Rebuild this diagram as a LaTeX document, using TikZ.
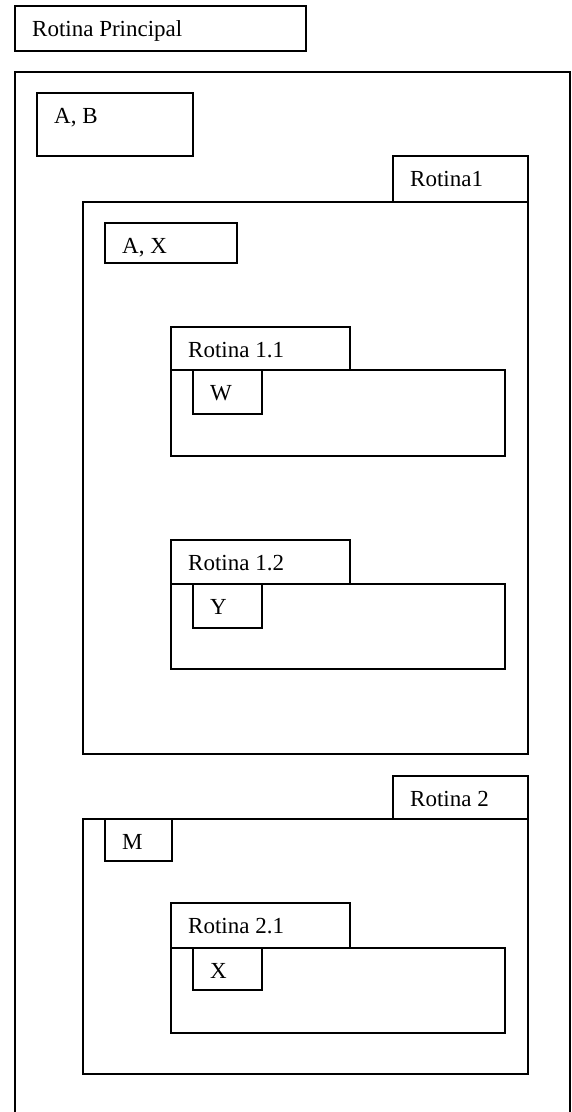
\documentclass[tikz,border=0pt]{standalone}
\usepackage{fontspec}
\setmainfont{Liberation Serif}
\begin{document}
\begin{tikzpicture}
[x=1pt,y=-1pt,
  boxdecorate/.style={shape=rectangle,draw,line width=1.5pt,inner sep=0pt,anchor=north west},%
  labeldecorate/.style={anchor=base west,inner sep=0pt,font=\fontsize{23}{28}\selectfont}]
\useasboundingbox[fill=white] (0,0) rectangle (571,1112);
%% boxes and their texts
\foreach \name/\x/\y/\w/\h/\text in {principal/14/71/555/1050/{},
  rp/14/5/291/45/{Rotina Principal}, ab/36/92/156/63/{A, B},
  tabum/392/155/135/46/{Rotina1}, rotum/82/201/445/552/{},
  ax/104/222/132/40/{A, X},
  tabumum/170/326/179/43/{Rotina 1.1}, rotumum/170/369/334/86/{},
  w/192/369/69/44/{W},
  tabumdois/170/539/179/44/{Rotina 1.2}, rotumdois/170/583/334/85/{},
  y/192/583/69/44/{Y},
  tabdois/392/775/135/43/{Rotina 2}, rotdois/82/818/445/255/{},
  m/104/818/67/42/{M},
  tabdoisum/170/902/179/45/{Rotina 2.1}, rotdoisum/170/947/334/85/{},
  x/192/947/69/42/{X}} {
  \node (\name) at (\x,\y) [boxdecorate,minimum width=\w pt,minimum height=\h pt] {};
  \node [labeldecorate] at ([shift={(18,31)}]\name.north west) {\text};
}
\end{tikzpicture}
\end{document}
